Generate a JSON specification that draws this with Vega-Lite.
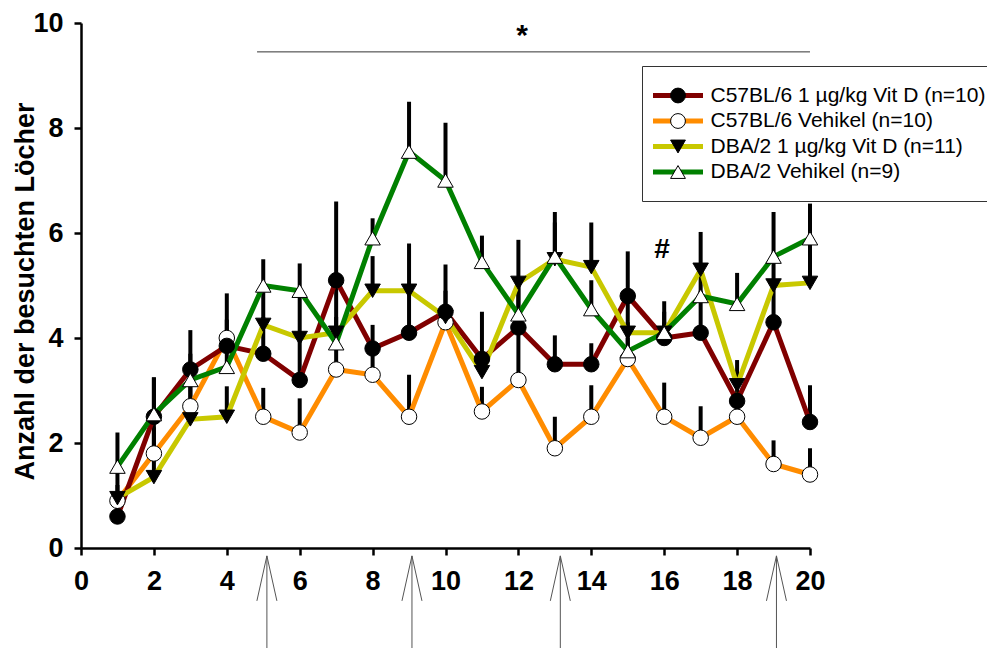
{
  "$schema": "https://vega.github.io/schema/vega-lite/v6.json",
  "width": 729,
  "height": 525,
  "autosize": {"type": "none"},
  "padding": {"left": 81, "top": 23, "right": 177, "bottom": 100},
  "background": "white",
  "config": {
    "view": {"stroke": null},
    "font": "Liberation Sans",
    "axis": {
      "domainColor": "black", "domainWidth": 2.5,
      "tickColor": "black", "tickWidth": 2.5, "tickSize": 7,
      "labelFont": "Liberation Sans", "labelFontWeight": "bold", "labelFontSize": 27, "labelColor": "black",
      "grid": false,
      "titleFont": "Liberation Sans", "titleFontWeight": "bold", "titleFontSize": 27, "titleColor": "black"
    }
  },
  "datasets": {
    "main": [
      {"day": 1, "group": "C57BL/6 Vehikel (n=10)", "mean": 0.9, "upper": 1.2},
      {"day": 2, "group": "C57BL/6 Vehikel (n=10)", "mean": 1.8, "upper": 2.5},
      {"day": 3, "group": "C57BL/6 Vehikel (n=10)", "mean": 2.7, "upper": 3.3},
      {"day": 4, "group": "C57BL/6 Vehikel (n=10)", "mean": 4.0, "upper": 4.85},
      {"day": 5, "group": "C57BL/6 Vehikel (n=10)", "mean": 2.5, "upper": 3.05},
      {"day": 6, "group": "C57BL/6 Vehikel (n=10)", "mean": 2.2, "upper": 2.85},
      {"day": 7, "group": "C57BL/6 Vehikel (n=10)", "mean": 3.4, "upper": 3.9},
      {"day": 8, "group": "C57BL/6 Vehikel (n=10)", "mean": 3.3, "upper": 3.8},
      {"day": 9, "group": "C57BL/6 Vehikel (n=10)", "mean": 2.5, "upper": 3.3},
      {"day": 10, "group": "C57BL/6 Vehikel (n=10)", "mean": 4.3, "upper": 4.6},
      {"day": 11, "group": "C57BL/6 Vehikel (n=10)", "mean": 2.6, "upper": 3.07},
      {"day": 12, "group": "C57BL/6 Vehikel (n=10)", "mean": 3.2, "upper": 4.1},
      {"day": 13, "group": "C57BL/6 Vehikel (n=10)", "mean": 1.9, "upper": 2.5},
      {"day": 14, "group": "C57BL/6 Vehikel (n=10)", "mean": 2.5, "upper": 3.1},
      {"day": 15, "group": "C57BL/6 Vehikel (n=10)", "mean": 3.6, "upper": 4.0},
      {"day": 16, "group": "C57BL/6 Vehikel (n=10)", "mean": 2.5, "upper": 3.15},
      {"day": 17, "group": "C57BL/6 Vehikel (n=10)", "mean": 2.1, "upper": 2.7},
      {"day": 18, "group": "C57BL/6 Vehikel (n=10)", "mean": 2.5, "upper": 2.8},
      {"day": 19, "group": "C57BL/6 Vehikel (n=10)", "mean": 1.6, "upper": 2.05},
      {"day": 20, "group": "C57BL/6 Vehikel (n=10)", "mean": 1.4, "upper": 1.9},
      {"day": 1, "group": "C57BL/6 1 µg/kg Vit D (n=10)", "mean": 0.6, "upper": 0.95},
      {"day": 2, "group": "C57BL/6 1 µg/kg Vit D (n=10)", "mean": 2.5, "upper": 3.25},
      {"day": 3, "group": "C57BL/6 1 µg/kg Vit D (n=10)", "mean": 3.4, "upper": 4.15},
      {"day": 4, "group": "C57BL/6 1 µg/kg Vit D (n=10)", "mean": 3.85, "upper": 4.35},
      {"day": 5, "group": "C57BL/6 1 µg/kg Vit D (n=10)", "mean": 3.7, "upper": 4.4},
      {"day": 6, "group": "C57BL/6 1 µg/kg Vit D (n=10)", "mean": 3.2, "upper": 4.0},
      {"day": 7, "group": "C57BL/6 1 µg/kg Vit D (n=10)", "mean": 5.1, "upper": 6.6},
      {"day": 8, "group": "C57BL/6 1 µg/kg Vit D (n=10)", "mean": 3.8, "upper": 4.25},
      {"day": 9, "group": "C57BL/6 1 µg/kg Vit D (n=10)", "mean": 4.1, "upper": 4.85},
      {"day": 10, "group": "C57BL/6 1 µg/kg Vit D (n=10)", "mean": 4.5, "upper": 5.4},
      {"day": 11, "group": "C57BL/6 1 µg/kg Vit D (n=10)", "mean": 3.6, "upper": 4.5},
      {"day": 12, "group": "C57BL/6 1 µg/kg Vit D (n=10)", "mean": 4.2, "upper": 5.1},
      {"day": 13, "group": "C57BL/6 1 µg/kg Vit D (n=10)", "mean": 3.5, "upper": 4.05},
      {"day": 14, "group": "C57BL/6 1 µg/kg Vit D (n=10)", "mean": 3.5, "upper": 3.9},
      {"day": 15, "group": "C57BL/6 1 µg/kg Vit D (n=10)", "mean": 4.8, "upper": 5.65},
      {"day": 16, "group": "C57BL/6 1 µg/kg Vit D (n=10)", "mean": 4.0, "upper": 4.3},
      {"day": 17, "group": "C57BL/6 1 µg/kg Vit D (n=10)", "mean": 4.1, "upper": 4.9},
      {"day": 18, "group": "C57BL/6 1 µg/kg Vit D (n=10)", "mean": 2.8, "upper": 3.2},
      {"day": 19, "group": "C57BL/6 1 µg/kg Vit D (n=10)", "mean": 4.3, "upper": 5.05},
      {"day": 20, "group": "C57BL/6 1 µg/kg Vit D (n=10)", "mean": 2.4, "upper": 3.1},
      {"day": 1, "group": "DBA/2 1 µg/kg Vit D (n=11)", "mean": 0.95, "upper": 1.5},
      {"day": 2, "group": "DBA/2 1 µg/kg Vit D (n=11)", "mean": 1.35, "upper": 2.3},
      {"day": 3, "group": "DBA/2 1 µg/kg Vit D (n=11)", "mean": 2.45, "upper": 3.2},
      {"day": 4, "group": "DBA/2 1 µg/kg Vit D (n=11)", "mean": 2.5, "upper": 3.08},
      {"day": 5, "group": "DBA/2 1 µg/kg Vit D (n=11)", "mean": 4.25, "upper": 5.0},
      {"day": 6, "group": "DBA/2 1 µg/kg Vit D (n=11)", "mean": 4.0, "upper": 4.85},
      {"day": 7, "group": "DBA/2 1 µg/kg Vit D (n=11)", "mean": 4.1, "upper": 5.0},
      {"day": 8, "group": "DBA/2 1 µg/kg Vit D (n=11)", "mean": 4.9, "upper": 5.56},
      {"day": 9, "group": "DBA/2 1 µg/kg Vit D (n=11)", "mean": 4.9, "upper": 5.8},
      {"day": 10, "group": "DBA/2 1 µg/kg Vit D (n=11)", "mean": 4.4, "upper": 4.9},
      {"day": 11, "group": "DBA/2 1 µg/kg Vit D (n=11)", "mean": 3.35, "upper": 3.6},
      {"day": 12, "group": "DBA/2 1 µg/kg Vit D (n=11)", "mean": 5.05, "upper": 5.87},
      {"day": 13, "group": "DBA/2 1 µg/kg Vit D (n=11)", "mean": 5.5, "upper": 6.2},
      {"day": 14, "group": "DBA/2 1 µg/kg Vit D (n=11)", "mean": 5.35, "upper": 6.2},
      {"day": 15, "group": "DBA/2 1 µg/kg Vit D (n=11)", "mean": 4.1, "upper": 4.8},
      {"day": 16, "group": "DBA/2 1 µg/kg Vit D (n=11)", "mean": 4.1, "upper": 4.5},
      {"day": 17, "group": "DBA/2 1 µg/kg Vit D (n=11)", "mean": 5.3, "upper": 6.02},
      {"day": 18, "group": "DBA/2 1 µg/kg Vit D (n=11)", "mean": 3.1, "upper": 3.58},
      {"day": 19, "group": "DBA/2 1 µg/kg Vit D (n=11)", "mean": 5.0, "upper": 5.5},
      {"day": 20, "group": "DBA/2 1 µg/kg Vit D (n=11)", "mean": 5.05, "upper": 5.85},
      {"day": 1, "group": "DBA/2 Vehikel (n=9)", "mean": 1.55, "upper": 2.2},
      {"day": 2, "group": "DBA/2 Vehikel (n=9)", "mean": 2.55, "upper": 3.25},
      {"day": 3, "group": "DBA/2 Vehikel (n=9)", "mean": 3.2, "upper": 3.7},
      {"day": 4, "group": "DBA/2 Vehikel (n=9)", "mean": 3.45, "upper": 4.0},
      {"day": 5, "group": "DBA/2 Vehikel (n=9)", "mean": 5.0, "upper": 5.5},
      {"day": 6, "group": "DBA/2 Vehikel (n=9)", "mean": 4.9, "upper": 5.42},
      {"day": 7, "group": "DBA/2 Vehikel (n=9)", "mean": 3.9, "upper": 4.4},
      {"day": 8, "group": "DBA/2 Vehikel (n=9)", "mean": 5.9, "upper": 6.28},
      {"day": 9, "group": "DBA/2 Vehikel (n=9)", "mean": 7.55, "upper": 8.5},
      {"day": 10, "group": "DBA/2 Vehikel (n=9)", "mean": 7.0, "upper": 8.1},
      {"day": 11, "group": "DBA/2 Vehikel (n=9)", "mean": 5.45, "upper": 5.95},
      {"day": 12, "group": "DBA/2 Vehikel (n=9)", "mean": 4.45, "upper": 5.0},
      {"day": 13, "group": "DBA/2 Vehikel (n=9)", "mean": 5.55, "upper": 6.4},
      {"day": 14, "group": "DBA/2 Vehikel (n=9)", "mean": 4.55, "upper": 5.1},
      {"day": 15, "group": "DBA/2 Vehikel (n=9)", "mean": 3.75, "upper": 4.3},
      {"day": 16, "group": "DBA/2 Vehikel (n=9)", "mean": 4.1, "upper": 4.7},
      {"day": 17, "group": "DBA/2 Vehikel (n=9)", "mean": 4.8, "upper": 5.4},
      {"day": 18, "group": "DBA/2 Vehikel (n=9)", "mean": 4.65, "upper": 5.24},
      {"day": 19, "group": "DBA/2 Vehikel (n=9)", "mean": 5.55, "upper": 6.4},
      {"day": 20, "group": "DBA/2 Vehikel (n=9)", "mean": 5.9, "upper": 6.56}
    ],
    "arrows": [
      {"day": 5.1, "mean": -0.15, "upper": -1.95},
      {"day": 9.08, "mean": -0.15, "upper": -1.95},
      {"day": 13.15, "mean": -0.15, "upper": -1.95},
      {"day": 19.08, "mean": -0.15, "upper": -1.95}
    ]
  },
  "layer": [
    {
      "data": {"name": "main"},
      "mark": {"type": "rule", "color": "black", "strokeWidth": 4},
      "encoding": {
        "x": {"field": "day", "type": "quantitative", "title": null,
              "scale": {"domain": [0, 20], "nice": false, "zero": false},
              "axis": {"values": [0, 2, 4, 6, 8, 10, 12, 14, 16, 18, 20], "labelPadding": 13, "labelFlush": false, "labelOverlap": false}},
        "y": {"field": "mean", "type": "quantitative", "title": "Anzahl der besuchten Löcher",
              "scale": {"domain": [0, 10], "nice": false},
              "axis": {"values": [0, 2, 4, 6, 8, 10], "labelPadding": 11, "labelOverlap": false,
                       "titleX": -48, "titleY": 268, "titleAngle": -90, "titleAlign": "center", "titleBaseline": "alphabetic"}},
        "y2": {"field": "upper"}
      }
    },
    {
      "data": {"name": "main"},
      "mark": {"type": "line", "strokeWidth": 5},
      "encoding": {
        "x": {"field": "day", "type": "quantitative", "title": null},
        "y": {"field": "mean", "type": "quantitative", "title": "Anzahl der besuchten Löcher"},
        "color": {
          "field": "group", "type": "nominal",
          "scale": {
            "domain": ["C57BL/6 1 µg/kg Vit D (n=10)", "C57BL/6 Vehikel (n=10)", "DBA/2 1 µg/kg Vit D (n=11)", "DBA/2 Vehikel (n=9)"],
            "range": ["#800000", "#ff8c00", "#c8c800", "#008000"]
          },
          "legend": {
            "orient": "none", "legendX": 561, "legendY": 43, "title": null,
            "padding": 19, "rowPadding": 3.5,
            "symbolType": "M-5,0H5", "symbolSize": 100, "symbolStrokeWidth": 5, "symbolOffset": 6.5,
            "labelOffset": 22, "labelFont": "Liberation Sans", "labelFontSize": 21, "labelColor": "black", "labelLimit": 600,
            "strokeColor": "#333333", "fillColor": "white", "zindex": 0
          }
        }
      }
    },
    {
      "data": {"name": "main"},
      "mark": {"type": "point", "filled": true, "strokeWidth": 1, "size": 240, "opacity": 1},
      "encoding": {
        "x": {"field": "day", "type": "quantitative", "title": null},
        "y": {"field": "mean", "type": "quantitative", "title": "Anzahl der besuchten Löcher"},
        "shape": {
          "field": "group", "type": "nominal",
          "scale": {"range": ["circle", "circle", "triangle-down", "triangle-up"]},
          "legend": {
            "orient": "none", "legendX": 561, "legendY": 43, "title": null,
            "padding": 19, "rowPadding": 3.5, "symbolSize": 220, "symbolOffset": 6.5,
            "symbolStrokeWidth": 1,
            "labelFontSize": 21, "labelExpr": "''", "labelLimit": 600, "zindex": 1
          }
        },
        "fill": {
          "field": "group", "type": "nominal",
          "scale": {"range": ["black", "white", "black", "white"]},
          "legend": {
            "orient": "none", "legendX": 561, "legendY": 43, "title": null,
            "padding": 19, "rowPadding": 3.5, "symbolSize": 220, "symbolOffset": 6.5,
            "symbolStrokeWidth": 1,
            "labelFontSize": 21, "labelExpr": "''", "labelLimit": 600, "zindex": 1
          }
        },
        "stroke": {
          "field": "group", "type": "nominal",
          "scale": {"range": ["black", "black", "black", "black"]},
          "legend": {
            "orient": "none", "legendX": 561, "legendY": 43, "title": null,
            "padding": 19, "rowPadding": 3.5, "symbolSize": 220, "symbolOffset": 6.5,
            "symbolStrokeWidth": 1,
            "labelFontSize": 21, "labelExpr": "''", "labelLimit": 600, "zindex": 1
          }
        }
      }
    },
    {
      "data": {"values": [{"day": 4.83, "day2": 20, "mean": 9.45}]},
      "mark": {"type": "rule", "color": "#333333", "strokeWidth": 1},
      "encoding": {
        "x": {"field": "day", "type": "quantitative", "title": null},
        "x2": {"field": "day2"},
        "y": {"field": "mean", "type": "quantitative", "title": "Anzahl der besuchten Löcher"}
      }
    },
    {
      "data": {"values": [{"day": 12.1, "mean": 9.87, "label": "*"}]},
      "mark": {"type": "text", "font": "Liberation Sans", "fontWeight": "bold", "fontSize": 30, "color": "black", "baseline": "middle", "dy": 6},
      "encoding": {
        "x": {"field": "day", "type": "quantitative", "title": null},
        "y": {"field": "mean", "type": "quantitative", "title": "Anzahl der besuchten Löcher"},
        "text": {"field": "label"}
      }
    },
    {
      "data": {"values": [{"day": 15.94, "mean": 5.68, "label": "#"}]},
      "mark": {"type": "text", "font": "Liberation Sans", "fontWeight": "bold", "fontSize": 28, "color": "black", "baseline": "middle"},
      "encoding": {
        "x": {"field": "day", "type": "quantitative", "title": null},
        "y": {"field": "mean", "type": "quantitative", "title": "Anzahl der besuchten Löcher"},
        "text": {"field": "label"}
      }
    },
    {
      "data": {"name": "arrows"},
      "mark": {"type": "rule", "color": "#555555", "strokeWidth": 1},
      "encoding": {
        "x": {"field": "day", "type": "quantitative", "title": null},
        "y": {"field": "mean", "type": "quantitative", "title": "Anzahl der besuchten Löcher"},
        "y2": {"field": "upper"}
      }
    },
    {
      "data": {"name": "arrows"},
      "mark": {"type": "point", "shape": "M-0.4,1.8L0,0L0.4,1.8", "size": 2500, "filled": false, "stroke": "#555555", "strokeWidth": 1, "opacity": 1},
      "encoding": {
        "x": {"field": "day", "type": "quantitative", "title": null},
        "y": {"field": "mean", "type": "quantitative", "title": "Anzahl der besuchten Löcher"}
      }
    }
  ]
}
